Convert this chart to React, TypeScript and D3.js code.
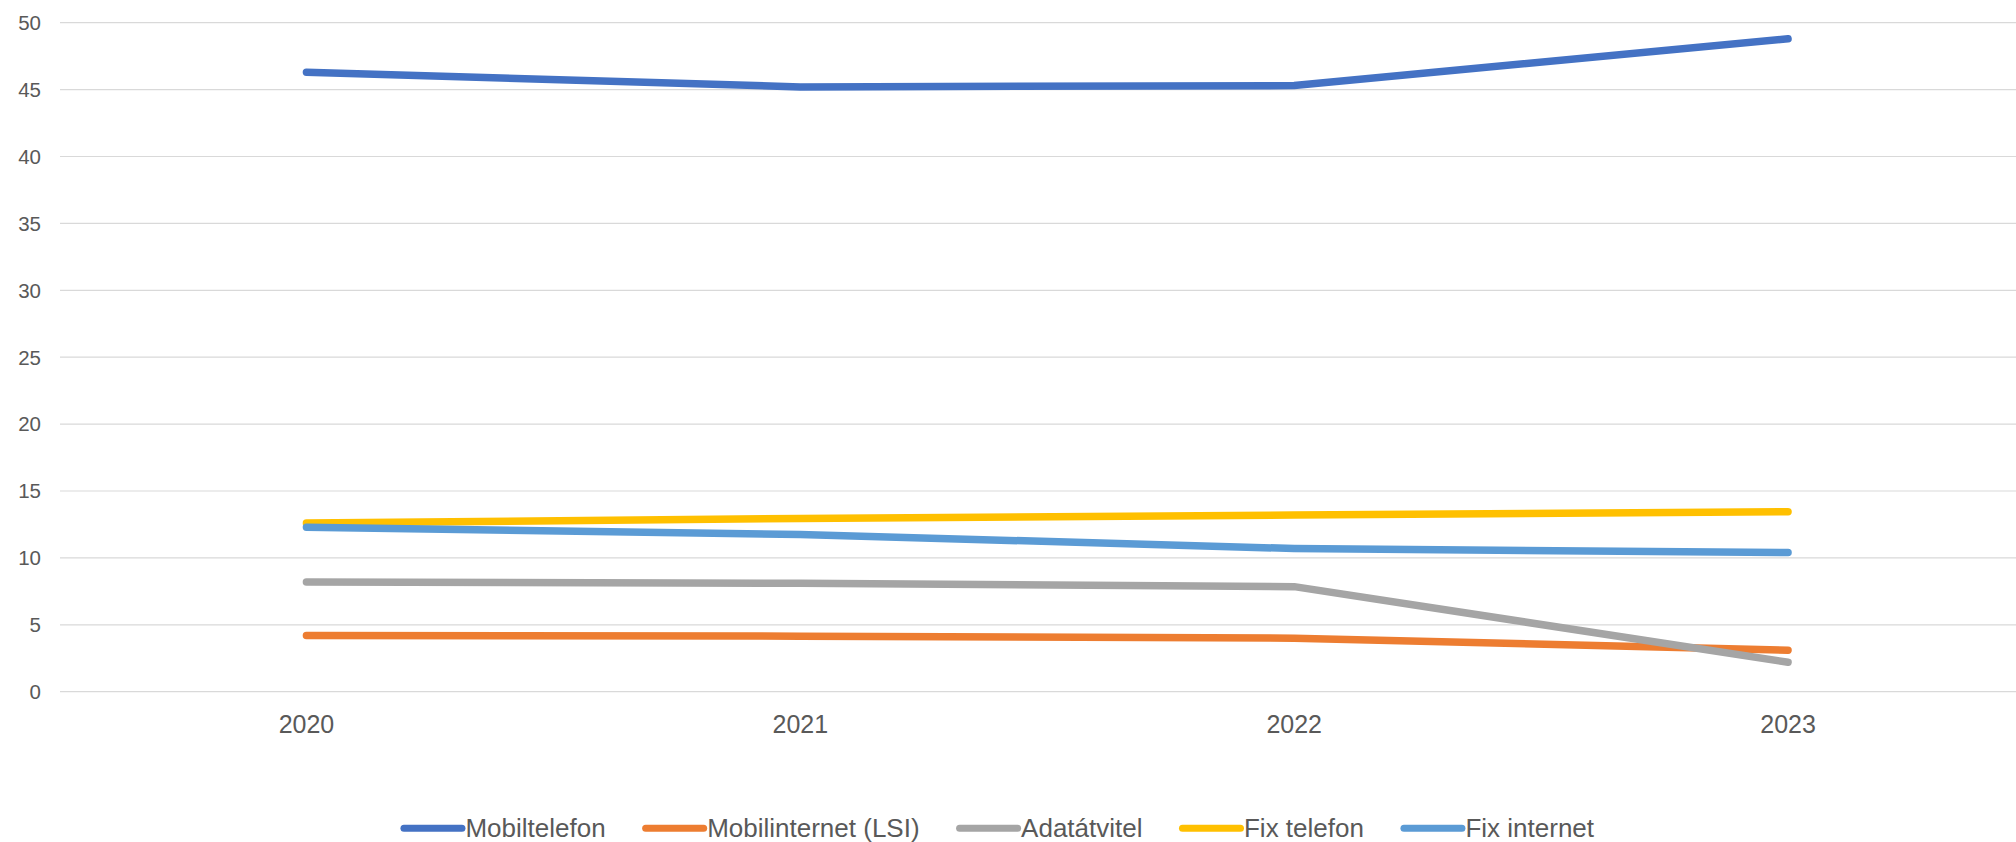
import React, { useEffect, useRef } from "react";
import * as d3 from "d3";

const years = ["2020", "2021", "2022", "2023"];
const seriesNames = ["Mobiltelefon", "Mobilinternet (LSI)", "Adatátvitel", "Fix telefon", "Fix internet"];
const mobiltelefon = [46.3, 45.2, 45.3, 48.8];
const mobilinternet = [4.2, 4.15, 4.0, 3.1];
const adatatvitel = [8.2, 8.1, 7.85, 2.2];
const fixTelefon = [12.6, 12.95, 13.2, 13.45];
const fixInternet = [12.3, 11.75, 10.7, 10.4];
const yTicks = [0, 5, 10, 15, 20, 25, 30, 35, 40, 45, 50];
const colors = ["#4472C4", "#ED7D31", "#A5A5A5", "#FFC000", "#5B9BD5"];

const W = 2016;
const H = 842;

export default function App() {
  const ref = useRef<SVGSVGElement>(null);

  useEffect(() => {
    const svg = d3.select(ref.current);
    svg.selectAll("*").remove();
    const font = "'Liberation Sans', Arial, sans-serif";
    const data = [mobiltelefon, mobilinternet, adatatvitel, fixTelefon, fixInternet];

    const x = d3.scaleBand<string>().domain(years).range([59.5, 2035]);
    const y = d3.scaleLinear().domain([0, 50]).range([691.7, 22.7]);

    // gridlines
    svg.append("g")
      .selectAll("line")
      .data(yTicks)
      .join("line")
      .attr("x1", 60)
      .attr("x2", W)
      .attr("y1", (d) => y(d))
      .attr("y2", (d) => y(d))
      .attr("stroke", "#D9D9D9")
      .attr("stroke-width", 1.2);

    // y labels
    svg.append("g")
      .selectAll("text")
      .data(yTicks)
      .join("text")
      .attr("x", 41)
      .attr("y", (d) => y(d))
      .attr("dy", "0.36em")
      .attr("text-anchor", "end")
      .attr("font-family", font)
      .attr("font-size", 20.5)
      .attr("fill", "#595959")
      .text((d) => String(d));

    // x labels
    svg.append("g")
      .selectAll("text")
      .data(years)
      .join("text")
      .attr("x", (d) => (x(d) as number) + x.bandwidth() / 2)
      .attr("y", 733.3)
      .attr("text-anchor", "middle")
      .attr("font-family", font)
      .attr("font-size", 25)
      .attr("fill", "#595959")
      .text((d) => d);

    const line = d3
      .line<number>()
      .x((_, i) => (x(years[i]) as number) + x.bandwidth() / 2)
      .y((d) => y(d));

    svg.append("g")
      .selectAll("path")
      .data(data)
      .join("path")
      .attr("d", (d) => line(d))
      .attr("fill", "none")
      .attr("stroke", (_, i) => colors[i])
      .attr("stroke-width", 7.5)
      .attr("stroke-linecap", "round")
      .attr("stroke-linejoin", "round");

    // legend
    const lg = svg.append("g");
    const markerW = 58;
    const gapAfterMarker = 3.5;
    const gapBetween = 40;
    const items: { g: any; w: number }[] = [];
    seriesNames.forEach((name, i) => {
      const g = lg.append("g");
      g.append("line")
        .attr("x1", 0)
        .attr("x2", markerW)
        .attr("y1", 828.3)
        .attr("y2", 828.3)
        .attr("stroke", colors[i])
        .attr("stroke-width", 7)
        .attr("stroke-linecap", "round");
      const t = g.append("text")
        .attr("x", markerW + gapAfterMarker)
        .attr("y", 836.7)
        .attr("font-family", font)
        .attr("font-size", 26)
        .attr("fill", "#595959")
        .text(name);
      const tw = (t.node() as SVGTextElement).getComputedTextLength();
      items.push({ g, w: markerW + gapAfterMarker + tw });
    });
    const total = items.reduce((s, it) => s + it.w, 0) + gapBetween * (items.length - 1);
    let cx = 999 - total / 2;
    items.forEach((it) => {
      it.g.attr("transform", `translate(${cx},0)`);
      cx += it.w + gapBetween;
    });
  }, []);

  return (
    <svg
      ref={ref}
      width={W}
      height={H}
      style={{ position: "absolute", left: 0, top: 0, background: "#fff" }}
    />
  );
}
